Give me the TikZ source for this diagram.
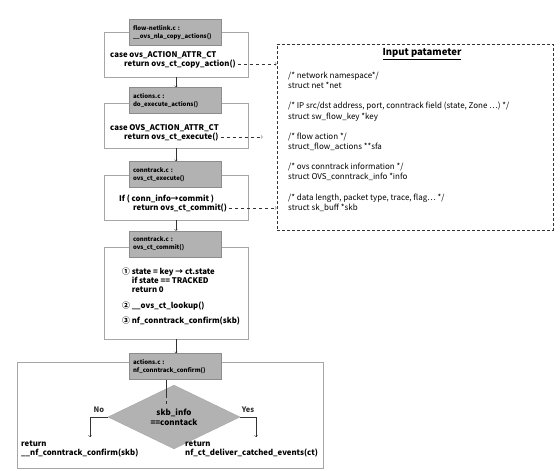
\documentclass[tikz,border=0pt]{standalone}
\usepackage{fontspec}
\setmainfont{Noto Sans CJK KR}
\usepackage{tikz}
\usetikzlibrary{positioning}
\usetikzlibrary{arrows}
\usetikzlibrary{shapes}
\definecolor{headgray}{RGB}{178,178,178}
\definecolor{edgegray}{RGB}{140,140,140}
\definecolor{boxgray}{RGB}{166,166,166}
\tikzset{%
  code box/.style={
    draw=boxgray,
    fill=white,
    minimum width=144pt,
    inner sep=0pt
  },
  file head/.style={
    draw=edgegray,
    fill=headgray,
    text width=84pt,
    minimum height=26pt,
    inner xsep=4pt,
    inner ysep=0pt,
    align=left,
    font=\bfseries\fontsize{6}{7.8}\selectfont
  },
  code text/.style={
    anchor=west,
    inner sep=0pt,
    align=left,
    font=\bfseries\fontsize{7.8}{9}\selectfont
  },
}

\begin{document}
\begin{tikzpicture}[x=1pt,y=-1pt]
      \tikzstyle{line} = [draw, -to, black!80]
      \tikzstyle{dash line} = [draw, -to, dashed, black!80, shorten <=2pt]
      \useasboundingbox (0,0) rectangle (560,471);

      % flow-netlink.c
      \node[code box, minimum height=45pt] (box1) at (176,54.5) {};
      \node[file head] (head1) at (175,32.5) {flow-netlink.c :\\\_\_ovs\_nla\_copy\_actions()};
      \node[code text] (case1) at (110,55) {case ovs\_ACTION\_ATTR\_CT};
      \node[code text] (ret1) at (124,64) {return ovs\_ct\_copy\_action()};

      % actions.c
      \node[code box, minimum height=45pt] (box2) at (176,125.5) {};
      \node[file head] (head2) at (175,100.5) {actions.c :\\do\_execute\_actions()};
      \node[code text] (case2) at (110,128) {case OVS\_ACTION\_ATTR\_CT};
      \node[code text] (ret2) at (124,137) {return ovs\_ct\_execute()};

      % conntrack.c : execute
      \node[code box, minimum height=45pt] (box3) at (176,197.5) {};
      \node[file head] (head3) at (175,174.5) {conntrack.c :\\ovs\_ct\_execute()};
      \node[code text] (if3) at (119,199) {If ( conn\_info→commit )};
      \node[code text] (ret3) at (133,208) {return ovs\_ct\_commit()};

      % conntrack.c : commit
      \node[code box, minimum height=92pt] (box4) at (176,293) {};
      \node[file head] (head4) at (175,244) {conntrack.c :\\ovs\_ct\_commit()};
      \node[code text] (step1) at (122,281) {①~state = key → ct.state\\\phantom{①~}if state == TRACKED\\\phantom{①~}return 0};
      \node[code text] (step2) at (122,306) {②~\_\_ovs\_ct\_lookup()};
      \node[code text] (step3) at (122,321) {③~nf\_conntrack\_confirm(skb)};

      % actions.c : confirm
      \node[code box, minimum width=306pt, minimum height=106pt] (box5) at (170,415) {};
      \node[file head] (head5) at (175,366.5) {actions.c :\\nf\_conntrack\_confirm()};
      \node[diamond, draw=boxgray, fill=headgray, inner sep=0pt, minimum width=132pt, minimum height=51pt, align=center, font=\bfseries\fontsize{8}{10}\selectfont] (dec) at (174,417) {skb\_info\\==conntack};
      \coordinate (noend) at (90,437);
      \coordinate (yesend) at (256,437);
      \node[code text] (noret) at (21,448.5) {return\\\_\_nf\_conntrack\_confirm(skb)};
      \node[code text] (yesret) at (185,448.5) {return\\nf\_ct\_deliver\_catched\_events(ct)};

      % Input parameter
      \node[draw, dashed, dash pattern=on 3pt off 2pt, thick, black!80, minimum width=276pt, minimum height=186pt] (param) at (415,137) {};
      \node[font=\bfseries\fontsize{9.5}{11}\selectfont] (ptitle) at (422,54) {\underline{Input patameter}};
      \node[anchor=north west, inner sep=0pt, align=left, font=\fontsize{8}{10.2}\selectfont] (plist) at (288,72) {%
        /* network namespace*/\\struct net *net\\[10pt]
        /* IP src/dst address, port, conntrack field (state, Zone ⋯) */\\struct sw\_flow\_key *key\\[10pt]
        /* flow action */\\struct\_flow\_actions **sfa\\[10pt]
        /* ovs conntrack information */\\struct OVS\_conntrack\_info *info\\[10pt]
        /* data length, packet type, trace, flag⋯ */\\struct sk\_buff *skb};

      % box -> next file
      \path[line] (box1.south) -- (box1.south |- head2.north);
      \path[line] (box2.south) -- (box2.south |- head3.north);
      \path[line] (box3.south) -- (box3.south |- head4.north);
      \path[line] (box4.south) -- (box4.south |- head5.north);

      % head -> decision
      \draw[black!80] ([xshift=-9pt]head5.south) -- ++(0,15) coordinate (dtop);
      \draw[black!80, dashed] (dtop) -- ++(0,12);

      % decision -> returns
      \path[line] (dec.west) -| node[pos=0.25, above=1pt, font=\bfseries\fontsize{7.5}{9}\selectfont] {No} (noend);
      \path[line] (dec.east) -| node[pos=0.25, above=1pt, font=\bfseries\fontsize{7.5}{9}\selectfont] {Yes} (yesend);

      % calls -> input parameter
      \path[dash line] (ret1.east) -- (ret1.east -| param.west);
      \path[dash line] (ret2.east) -- ([xshift=-14pt]ret2.east -| param.west);
      \path[dash line] (ret3.east) -- (ret3.east -| param.west);
    \end{tikzpicture}
\end{document}
